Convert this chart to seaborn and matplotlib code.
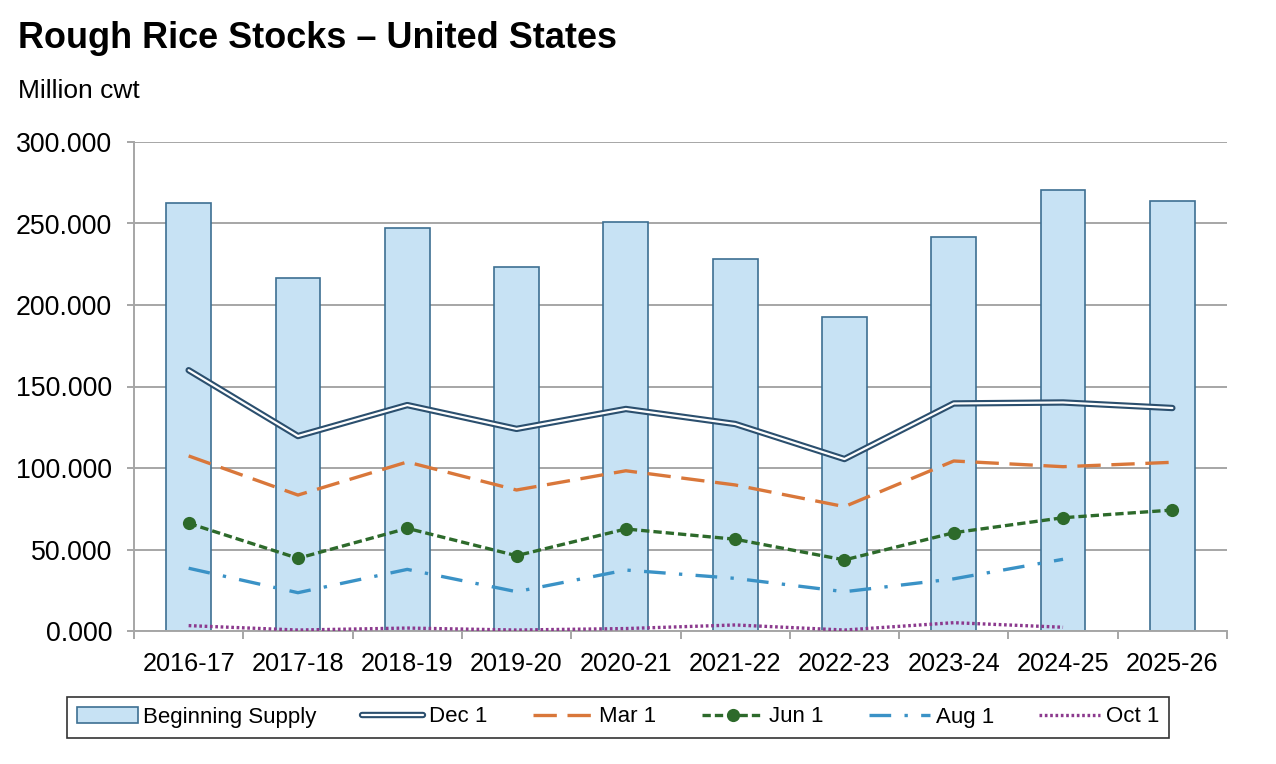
import numpy as np
import pandas as pd
import matplotlib
matplotlib.use("Agg")
import matplotlib.pyplot as plt
import seaborn as sns
from matplotlib.lines import Line2D
from matplotlib.patches import Patch
from matplotlib.legend_handler import HandlerTuple
from matplotlib.ticker import FuncFormatter, FixedLocator

years = ["2016-17", "2017-18", "2018-19", "2019-20", "2020-21",
         "2021-22", "2022-23", "2023-24", "2024-25", "2025-26"]
beginning_supply = [262.6, 216.6, 247.2, 223.3, 250.9, 228.2, 192.6, 242.0, 270.6, 263.5]
dec1 = [160.0, 119.6, 138.6, 124.0, 136.2, 127.0, 105.5, 139.6, 140.2, 136.8]
mar1 = [107.4, 83.4, 103.7, 86.5, 98.3, 89.6, 76.3, 104.3, 100.8, 103.5]
jun1 = [66.1, 44.6, 63.0, 46.2, 62.6, 56.3, 43.6, 60.3, 69.5, 74.2]
aug1 = [38.5, 23.5, 37.8, 24.1, 37.4, 32.3, 24.1, 32.0, 44.0, np.nan]
oct1 = [3.3, 0.6, 1.8, 0.6, 1.5, 3.7, 0.6, 5.1, 2.3, np.nan]

sns.set_theme(style="white")
plt.rcParams['font.family'] = ['Liberation Sans', 'DejaVu Sans']
plt.rcParams['text.color'] = 'black'

BAR_FC = "#c7e2f4"
BAR_EC = "#3d6f92"
DEC_C = "#2b4f6e"
MAR_C = "#d9773a"
JUN_C = "#2d6a2b"
AUG_C = "#3a92c6"
OCT_C = "#8c3a8e"

fig = plt.figure(figsize=(12.76, 7.64), dpi=100)
ax = fig.add_axes([134/1276, 1-631/764, (1227-134)/1276, (631-142)/764])

df = pd.DataFrame({"year": years, "supply": beginning_supply})
sns.barplot(data=df, x="year", y="supply", ax=ax, color=BAR_FC,
            edgecolor=BAR_EC, linewidth=1.2, width=0.41, saturation=1, zorder=2)

xpos = np.arange(len(years))
# Dec 1 double line
sns.lineplot(x=xpos, y=dec1, ax=ax, color=DEC_C, linewidth=4.6, zorder=4)
sns.lineplot(x=xpos, y=dec1, ax=ax, color="white", linewidth=1.6, zorder=5)
# Mar 1
l = sns.lineplot(x=xpos, y=mar1, ax=ax, color=MAR_C, linewidth=2.4, zorder=4).lines[-1]
l.set_dashes([7, 3.2])
# Jun 1
l = sns.lineplot(x=xpos, y=jun1, ax=ax, color=JUN_C, linewidth=2.4, zorder=4,
                 marker="o", markersize=9.5, markeredgewidth=0).lines[-1]
l.set_dashes([2.5, 1.2])
# Aug 1
l = sns.lineplot(x=xpos, y=aug1, ax=ax, color=AUG_C, linewidth=2.4, zorder=4).lines[-1]
l.set_dashes([6.5, 4, 1, 4])
# Oct 1
l = sns.lineplot(x=xpos, y=oct1, ax=ax, color=OCT_C, linewidth=2.4, zorder=4).lines[-1]
l.set_dashes([0.8, 0.8])

ax.set_xlim(-0.5, len(years) - 0.5)
ax.set_ylim(0, 300)
ax.set_yticks(np.arange(0, 301, 50))
ax.yaxis.set_major_formatter(FuncFormatter(lambda v, p: f"{v:.3f}"))
ax.yaxis.grid(True, color="#a6a6a6", linewidth=1.4, zorder=0)
ax.set_axisbelow(True)
ax.set_xlabel("")
ax.set_ylabel("")
for s in ["top", "right"]:
    ax.spines[s].set_visible(False)
for s in ["left", "bottom"]:
    ax.spines[s].set_color("#a6a6a6")
    ax.spines[s].set_linewidth(1.4)
ax.xaxis.set_minor_locator(FixedLocator(np.arange(-0.5, len(years), 1.0)))
ax.tick_params(axis="x", which="major", length=0, pad=15, labelsize=18.2, colors="black")
ax.tick_params(axis="x", which="minor", length=5.5, width=1.4, color="#a6a6a6", bottom=True)
ax.tick_params(axis="y", which="major", length=5.2, width=1.4, color="#a6a6a6",
               left=True, pad=10.5, labelsize=19.3, labelcolor="black")

fig.text(18/1276, 1-38/764, "Rough Rice Stocks \u2013 United States", fontsize=25.9,
         fontweight="bold", va="center", ha="left", color="black")
fig.text(18/1276, 1-91/764, "Million cwt", fontsize=19, va="center", ha="left",
         color="black")

h_bar = Patch(facecolor=BAR_FC, edgecolor=BAR_EC, linewidth=1.2)
h_dec = (Line2D([], [], color=DEC_C, linewidth=4.6),
         Line2D([], [], color="white", linewidth=1.6))
h_mar = Line2D([], [], color=MAR_C, linewidth=2.4, dashes=[7, 3.2])
h_jun = Line2D([], [], color=JUN_C, linewidth=2.4, dashes=[2.5, 1.2],
               marker="o", markersize=9.5, markeredgewidth=0)
h_aug = Line2D([], [], color=AUG_C, linewidth=2.4, dashes=[6.5, 4, 1, 4])
h_oct = Line2D([], [], color=OCT_C, linewidth=2.4, dashes=[0.8, 0.8])
leg = fig.legend([h_bar, h_dec, h_mar, h_jun, h_aug, h_oct],
                 ["Beginning Supply", "Dec 1", "Mar 1", "Jun 1", "Aug 1", "Oct 1"],
                 handler_map={tuple: HandlerTuple(ndivide=1)},
                 loc="center", bbox_to_anchor=(618/1276, 1-717/764), ncol=6,
                 fontsize=16, frameon=True, fancybox=False, edgecolor="black",
                 handlelength=2.75, handletextpad=0.25, columnspacing=2.05,
                 borderpad=0.45, borderaxespad=0)
leg.get_frame().set_linewidth(1.2)
for t in leg.get_texts():
    t.set_color("black")

fig.savefig("out.png", dpi=100)
